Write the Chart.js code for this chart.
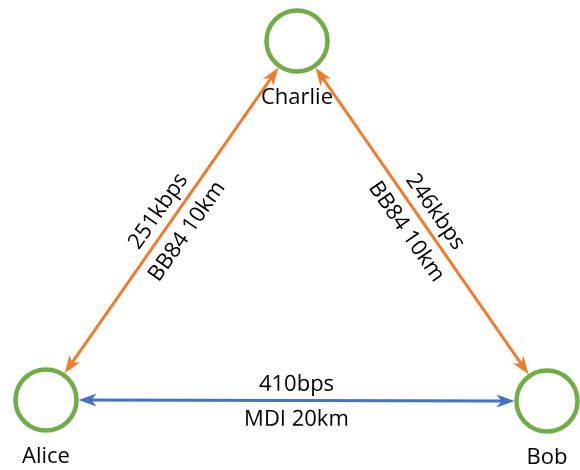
<!DOCTYPE html>
<html><head><meta charset="utf-8">
<script src="https://cdn.jsdelivr.net/npm/chart.js@4"></script>
<style>html,body{margin:0;padding:0;background:#fff}</style>
</head><body>
<canvas id="c" width="580" height="470"></canvas>
<script>
// ---- data ----
const nodeNames = ['Alice', 'Bob', 'Charlie'];
const nodeX = [46, 547, 297];
const nodeY = [400, 401, 41];
const edgeFrom = [0, 2, 0];
const edgeTo = [2, 1, 1];
const edgeRate = ['251kbps', '246kbps', '410bps'];
const edgeProto = ['BB84 10km', 'BB84 10km', 'MDI 20km'];
const edgeKind = ['BB84', 'BB84', 'MDI'];

// ---- style ----
const KIND_COLOR = { BB84: '#ED7D31', MDI: '#4472C4' };
const NODE_COLOR = '#70AD47';
const NODE_R = 30.5;     // circle radius (px)
const NODE_BW = 4.5;
const TIP_GAP = 2;       // distance from circle path to arrow tip
const ARROW_LEN = 18, ARROW_HW = 6.5, ARROW_NOTCH = 5;
const FONT = '22px "Open Sans", "Liberation Sans", sans-serif';

function edgeGeom(i) {
  const ax = nodeX[edgeFrom[i]], ay = nodeY[edgeFrom[i]];
  const bx = nodeX[edgeTo[i]], by = nodeY[edgeTo[i]];
  const dx = bx - ax, dy = by - ay, L = Math.hypot(dx, dy);
  const ux = dx / L, uy = dy / L;
  const t = NODE_R + TIP_GAP;
  return { ax, ay, bx, by, ux, uy,
    p0: { x: ax + ux * t, y: ay + uy * t },
    p1: { x: bx - ux * t, y: by - uy * t } };
}

const datasets = [];
datasets.push({
  label: 'nodes',
  data: nodeNames.map((n, i) => ({ x: nodeX[i], y: nodeY[i] })),
  pointRadius: NODE_R, pointHoverRadius: NODE_R,
  pointBorderWidth: NODE_BW, pointHoverBorderWidth: NODE_BW,
  pointBorderColor: NODE_COLOR, pointBackgroundColor: 'rgba(255,255,255,0)',
  showLine: false, order: 0, clip: false
});
edgeRate.forEach((r, i) => {
  const g = edgeGeom(i);
  const s = 6;
  datasets.push({
    label: 'edge' + i,
    data: [{ x: g.p0.x + g.ux * s, y: g.p0.y + g.uy * s },
           { x: g.p1.x - g.ux * s, y: g.p1.y - g.uy * s }],
    showLine: true, borderColor: KIND_COLOR[edgeKind[i]], borderWidth: 3,
    pointRadius: 0, pointHoverRadius: 0, borderCapStyle: 'butt', order: 1, clip: false
  });
});

function drawArrow(ctx, tx, ty, ux, uy) {
  const px = -uy, py = ux;
  const bx = tx - ux * ARROW_LEN, by = ty - uy * ARROW_LEN;
  const nx = tx - ux * (ARROW_LEN - ARROW_NOTCH), ny = ty - uy * (ARROW_LEN - ARROW_NOTCH);
  ctx.beginPath();
  ctx.moveTo(tx, ty);
  ctx.lineTo(bx + px * ARROW_HW, by + py * ARROW_HW);
  ctx.lineTo(nx, ny);
  ctx.lineTo(bx - px * ARROW_HW, by - py * ARROW_HW);
  ctx.closePath();
  ctx.fill();
}

const diagramPlugin = {
  id: 'diagram',
  afterDatasetsDraw(chart) {
    const ctx = chart.ctx, xs = chart.scales.x, ys = chart.scales.y;
    ctx.save();
    edgeRate.forEach((r, i) => {
      const g = edgeGeom(i);
      const x0 = xs.getPixelForValue(g.p0.x), y0 = ys.getPixelForValue(g.p0.y);
      const x1 = xs.getPixelForValue(g.p1.x), y1 = ys.getPixelForValue(g.p1.y);
      const dx = x1 - x0, dy = y1 - y0, L = Math.hypot(dx, dy);
      const ux = dx / L, uy = dy / L;
      ctx.fillStyle = KIND_COLOR[edgeKind[i]];
      drawArrow(ctx, x1, y1, ux, uy);
      drawArrow(ctx, x0, y0, -ux, -uy);
      let ang = Math.atan2(dy, dx);
      if (ang > Math.PI / 2) ang -= Math.PI;
      if (ang < -Math.PI / 2) ang += Math.PI;
      const mx = (x0 + x1) / 2, my = (y0 + y1) / 2;
      ctx.save();
      ctx.translate(mx, my);
      ctx.rotate(ang);
      ctx.fillStyle = '#000';
      ctx.font = FONT;
      ctx.textAlign = 'center';
      ctx.textBaseline = 'middle';
      ctx.fillText(edgeRate[i], 0, -16);
      ctx.fillText(edgeProto[i], 0, 19);
      ctx.restore();
    });
    ctx.fillStyle = '#000';
    ctx.font = FONT;
    ctx.textAlign = 'center';
    ctx.textBaseline = 'middle';
    nodeNames.forEach((n, i) => {
      ctx.fillText(n, xs.getPixelForValue(nodeX[i]), ys.getPixelForValue(nodeY[i]) + 57);
    });
    ctx.restore();
  }
};

new Chart(document.getElementById('c'), {
  type: 'scatter',
  data: { datasets },
  options: {
    responsive: false, animation: false, devicePixelRatio: 1,
    layout: { padding: 0, autoPadding: false },
    plugins: { legend: { display: false }, tooltip: { enabled: false } },
    events: [],
    scales: {
      x: { type: 'linear', min: 0, max: 580, display: false },
      y: { type: 'linear', min: 0, max: 470, reverse: true, display: false }
    }
  },
  plugins: [diagramPlugin]
});
</script>
</body></html>
